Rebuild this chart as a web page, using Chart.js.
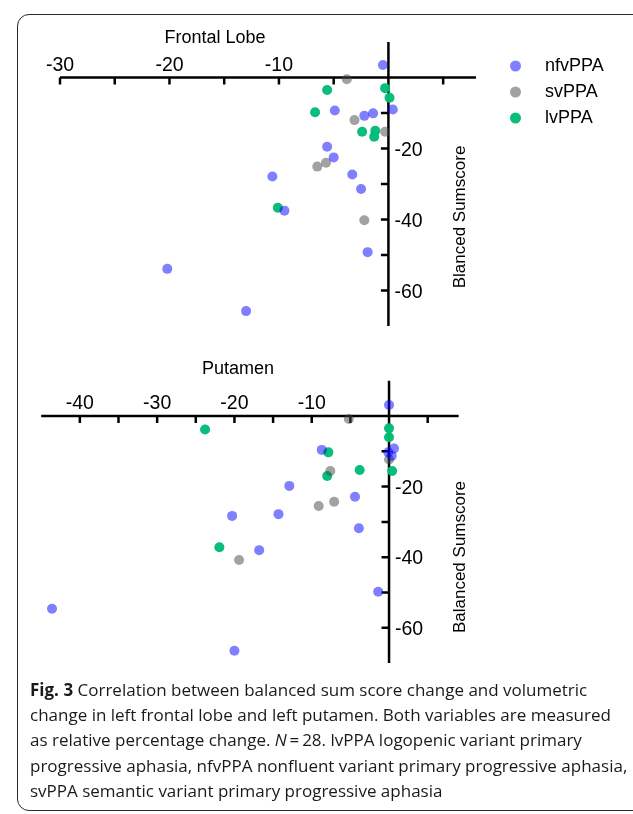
<!DOCTYPE html>
<html>
<head>
<meta charset="utf-8">
<script src="https://cdn.jsdelivr.net/npm/chart.js@4.4.0/dist/chart.umd.min.js"></script>
<style>
  body { margin: 0; width: 633px; height: 814px; overflow: hidden; background: #fff; position: relative;
         font-family: "Liberation Sans", Arial, sans-serif; color: #000; }
  .frame { position: absolute; left: 17px; top: 14px; width: 700px; height: 795px;
           border: 1.5px solid #2a2a2a; border-radius: 12px; }
  canvas { position: absolute; left: 0; }
  #frontal { top: 0; }
  #putamen { top: 340px; }
  .title { position: absolute; font-size: 18px; transform: translate(-50%, -50%); white-space: nowrap; }
  .ytitle { position: absolute; font-size: 17px; transform: translate(-50%, -50%) rotate(-90deg); white-space: nowrap; }
  .leg { position: absolute; left: 510px; font-size: 18px; white-space: nowrap; transform: translateY(-50%); }
  .leg span { display: inline-block; width: 11px; height: 11px; border-radius: 50%; margin-right: 24px; vertical-align: -1px; }
  .caption { position: absolute; left: 30px; top: 677px; font-family: "Open Sans", sans-serif; font-size: 17px;
             line-height: 25.2px; color: #1a1a1a; white-space: nowrap; }
</style>
</head>
<body>
<div class="frame"></div>
<canvas id="frontal" width="633" height="340"></canvas>
<canvas id="putamen" width="633" height="340"></canvas>
<div class="title" style="left:215px; top:37px;">Frontal Lobe</div>
<div class="title" style="left:238px; top:368px;">Putamen</div>
<div class="ytitle" style="left:460px; top:217px;">Blanced Sumscore</div>
<div class="ytitle" style="left:460px; top:557px;">Balanced Sumscore</div>
<div id="legend"></div>
<div class="caption">
  <b>Fig. 3</b> Correlation between balanced sum score change and volumetric<br>
  change in left frontal lobe and left putamen. Both variables are measured<br>
  as relative percentage change. <i>N</i>&thinsp;=&thinsp;28. lvPPA logopenic variant primary<br>
  progressive aphasia, nfvPPA nonfluent variant primary progressive aphasia,<br>
  svPPA semantic variant primary progressive aphasia
</div>
<script>
// series
const seriesNames = ['nfvPPA', 'svPPA', 'lvPPA'];
const seriesColors = ['rgba(0, 0, 255, 0.5)', 'rgba(70, 70, 70, 0.5)', 'rgba(0, 188, 118, 0.97)'];

// Frontal lobe: volume change (x) vs balanced sumscore change (y), in %
const frontalNfvX = [-0.5, -4.9, 0.4, -2.2, -1.4, -5.6, -5.0, -10.6, -3.3, -2.5, -9.5, -1.9, -13.0, -20.2];
const frontalNfvY = [3.5, -9.3, -9.0, -10.8, -10.1, -19.5, -22.5, -27.9, -27.3, -31.4, -37.5, -49.2, -65.8, -53.9];
const frontalSvX = [-3.8, -3.1, -0.3, -6.5, -5.7, -2.2];
const frontalSvY = [-0.5, -12.0, -15.3, -25.1, -24.0, -40.2];
const frontalLvX = [-5.6, -0.3, 0.1, -6.7, -2.4, -1.2, -1.3, -10.1];
const frontalLvY = [-3.5, -3.0, -5.7, -9.8, -15.3, -15.0, -16.7, -36.7];

// Putamen
const putamenNfvX = [0.0, -8.7, 0.65, -0.1, 0.35, -12.9, -4.4, -20.3, -14.3, -3.9, -16.8, -1.4, -20.0, -43.6];
const putamenNfvY = [3.1, -9.6, -9.2, -10.3, -11.3, -19.8, -22.9, -28.3, -27.8, -31.8, -38.0, -49.8, -66.5, -54.6];
const putamenSvX = [-5.2, 0.0, -7.6, -9.1, -7.1, -19.4];
const putamenSvY = [-0.85, -12.3, -15.6, -25.5, -24.3, -40.8];
const putamenLvX = [-23.8, 0.0, 0.0, -7.85, 0.4, -3.8, -8.0, -21.95];
const putamenLvY = [-3.8, -3.5, -6.0, -10.3, -15.6, -15.3, -17.0, -37.2];

// ticks
const frontalXTicks = [-30, -25, -20, -15, -10, -5, 0, 5];
const frontalXLabels = [-30, -20, -10];
const putamenXTicks = [-40, -35, -30, -25, -20, -15, -10, -5, 0, 5];
const putamenXLabels = [-40, -30, -20, -10];
const yTicks = [-10, -20, -30, -40, -50, -60];
const yLabels = [-20, -40, -60];

// legend
seriesNames.forEach((name, i) => {
  const d = document.createElement('div');
  d.className = 'leg';
  d.style.top = (65 + i * 26) + 'px';
  d.innerHTML = '<span style="background:' + seriesColors[i] + '"></span>' + name;
  document.getElementById('legend').appendChild(d);
});

function points(xs, ys) {
  return xs.map((x, i) => ({ x: x, y: ys[i] }));
}

// axes that cross at the origin: ticks below / left, labels above / right
const crossAxes = {
  id: 'crossAxes',
  beforeDatasetsDraw(chart, args, opts) {
    const ctx = chart.ctx;
    const xs = chart.scales.x, ys = chart.scales.y;
    const area = chart.chartArea;
    const x0 = xs.getPixelForValue(0), y0 = ys.getPixelForValue(0);
    ctx.save();
    ctx.strokeStyle = '#000';
    ctx.lineWidth = 2.5;
    ctx.beginPath();
    ctx.moveTo(area.left, y0); ctx.lineTo(area.right, y0);
    ctx.moveTo(x0, area.top); ctx.lineTo(x0, area.bottom);
    opts.xTicks.forEach(v => {
      const px = xs.getPixelForValue(v);
      ctx.moveTo(px, y0); ctx.lineTo(px, y0 + 7);
    });
    opts.yTicks.forEach(v => {
      const py = ys.getPixelForValue(v);
      ctx.moveTo(x0, py); ctx.lineTo(x0 - 7.5, py);
    });
    ctx.stroke();
    ctx.fillStyle = '#000';
    ctx.font = '19.5px "Liberation Sans", Arial, sans-serif';
    ctx.textBaseline = 'alphabetic';
    ctx.textAlign = 'center';
    opts.xLabels.forEach(v => ctx.fillText(String(v), xs.getPixelForValue(v), y0 - 7));
    ctx.textAlign = 'left';
    opts.yLabels.forEach(v => ctx.fillText(String(v), x0 + 6, ys.getPixelForValue(v) + 7));
    ctx.restore();
  }
};

function makeChart(id, sets, xMin, xMax, xTicks, xLabels, padding) {
  return new Chart(document.getElementById(id), {
    type: 'scatter',
    data: {
      datasets: sets.map((s, i) => ({
        label: seriesNames[i],
        data: s,
        backgroundColor: seriesColors[i],
        borderWidth: 0,
        pointRadius: 5,
        pointHoverRadius: 5
      }))
    },
    options: {
      responsive: false,
      animation: false,
      events: [],
      layout: { padding: padding },
      scales: {
        x: { type: 'linear', min: xMin, max: xMax, display: false },
        y: { type: 'linear', min: -70, max: 10, display: false }
      },
      plugins: {
        legend: { display: false },
        tooltip: { enabled: false },
        crossAxes: { xTicks: xTicks, xLabels: xLabels, yTicks: yTicks, yLabels: yLabels }
      }
    },
    plugins: [crossAxes]
  });
}

makeChart('frontal',
  [points(frontalNfvX, frontalNfvY), points(frontalSvX, frontalSvY), points(frontalLvX, frontalLvY)],
  -30, 8, frontalXTicks, frontalXLabels,
  { left: 60, right: 157, top: 42, bottom: 14 });

makeChart('putamen',
  [points(putamenNfvX, putamenNfvY), points(putamenSvX, putamenSvY), points(putamenLvX, putamenLvY)],
  -45, 9, putamenXTicks, putamenXLabels,
  { left: 41.2, right: 174.4, top: 40.7, bottom: 16.9 });
</script>
</body>
</html>
